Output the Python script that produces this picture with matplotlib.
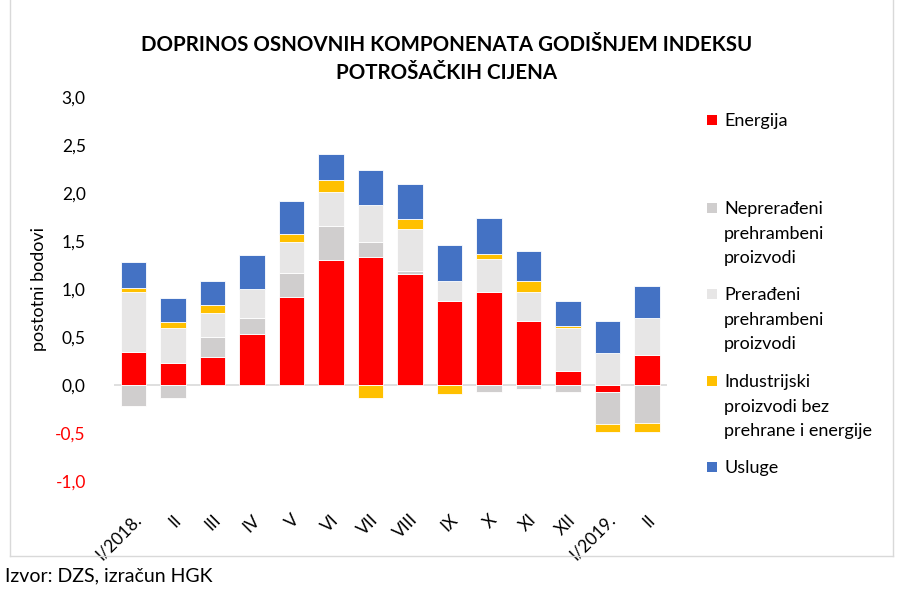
import matplotlib
matplotlib.use("Agg")
import matplotlib.pyplot as plt
import numpy as np
from matplotlib.patches import Rectangle
from matplotlib.lines import Line2D

plt.rcParams['font.family'] = ['Lato', 'DejaVu Sans']

categories = ["I/2018.", "II", "III", "IV", "V", "VI", "VII", "VIII", "IX", "X", "XI", "XII", "I/2019.", "II"]
energija = [0.34, 0.23, 0.29, 0.53, 0.92, 1.30, 1.33, 1.16, 0.88, 0.97, 0.67, 0.15, -0.07, 0.31]
nepreradeni = [-0.22, -0.13, 0.21, 0.17, 0.25, 0.36, 0.16, 0.03, 0.0, -0.07, -0.04, -0.07, -0.34, -0.40]
preradeni = [0.63, 0.36, 0.25, 0.30, 0.32, 0.35, 0.39, 0.43, 0.20, 0.34, 0.30, 0.44, 0.33, 0.39]
industrijski = [0.04, 0.07, 0.08, 0.0, 0.08, 0.13, -0.13, 0.11, -0.09, 0.05, 0.11, 0.02, -0.08, -0.09]
usluge = [0.27, 0.25, 0.25, 0.35, 0.35, 0.27, 0.36, 0.36, 0.38, 0.38, 0.32, 0.26, 0.34, 0.33]

series_names = ["Energija", "Neprerađeni\nprehrambeni\nproizvodi", "Prerađeni\nprehrambeni\nproizvodi",
                "Industrijski\nproizvodi bez\nprehrane i energije", "Usluge"]
series = [energija, nepreradeni, preradeni, industrijski, usluge]
colors = ["#FF0000", "#D0CECE", "#E7E6E6", "#FFC000", "#4472C4"]
yticks = [-1.0, -0.5, 0.0, 0.5, 1.0, 1.5, 2.0, 2.5, 3.0]

fig = plt.figure(figsize=(9, 5.9), dpi=100)
ax = fig.add_axes([0.1262, 0.1847, 0.6145, 0.6509])

x = np.arange(len(categories))
pos = np.zeros(len(categories))
neg = np.zeros(len(categories))
for vals, col in zip(series, colors):
    v = np.array(vals)
    bottoms = np.where(v >= 0, pos, neg)
    ax.bar(x, v, bottom=bottoms, width=0.645, color=col, edgecolor='white', linewidth=0.6, zorder=3)
    pos = pos + np.where(v >= 0, v, 0)
    neg = neg + np.where(v < 0, v, 0)

ax.axhline(0, color='#D9D9D9', linewidth=1.2, zorder=2)
ax.set_xlim(-0.5, len(categories) - 0.5)
ax.set_ylim(-1.0, 3.0)
ax.set_yticks(yticks)
ax.set_yticklabels([f"{t:.1f}".replace('.', ',') for t in yticks], fontsize=12.5)
for lbl, t in zip(ax.get_yticklabels(), yticks):
    lbl.set_color('#FF0000' if t < 0 else 'black')
ax.tick_params(axis='y', length=0, pad=20)
ax.set_xticks(x)
ax.set_xticklabels(categories, rotation=45, ha='right', rotation_mode='anchor', fontsize=12.5)
ax.tick_params(axis='x', length=0, pad=22)
for s in ax.spines.values():
    s.set_visible(False)
ax.set_ylabel("postotni bodovi", fontsize=13, labelpad=8)
ax.yaxis.set_label_coords(-0.12, 0.5)

fig.text(447 / 900, 1 - 45 / 590, "DOPRINOS OSNOVNIH KOMPONENATA GODIŠNJEM INDEKSU", ha='center', va='center',
         fontsize=14.8, fontweight='bold')
fig.text(447 / 900, 1 - 73 / 590, "POTROŠAČKIH CIJENA", ha='center', va='center', fontsize=14.8, fontweight='bold')

# legend (manual layout)
leg_y = [120, 208, 294, 381, 467]
for name, col, yy in zip(series_names, colors, leg_y):
    fig.patches.append(Rectangle((707 / 900, 1 - (yy + 5) / 590), 10 / 900, 10 / 590, transform=fig.transFigure,
                                 facecolor=col, edgecolor='none'))
    fig.text(724 / 900, 1 - (yy - 7) / 590, name, ha='left', va='top', fontsize=13, linespacing=1.66)

# outer frame
fc = '#D9D9D9'
fig.add_artist(Line2D([10 / 900, 10 / 900], [1 - 556 / 590, 1.0], transform=fig.transFigure, color=fc, lw=1))
fig.add_artist(Line2D([893 / 900, 893 / 900], [1 - 556 / 590, 1.0], transform=fig.transFigure, color=fc, lw=1))
fig.add_artist(Line2D([10 / 900, 893 / 900], [1 - 556 / 590, 1 - 556 / 590], transform=fig.transFigure, color=fc, lw=1))

fig.text(5 / 900, 1 - 576 / 590, "Izvor: DZS, izračun HGK", ha='left', va='center', fontsize=14)

fig.savefig("out.png", dpi=100)
